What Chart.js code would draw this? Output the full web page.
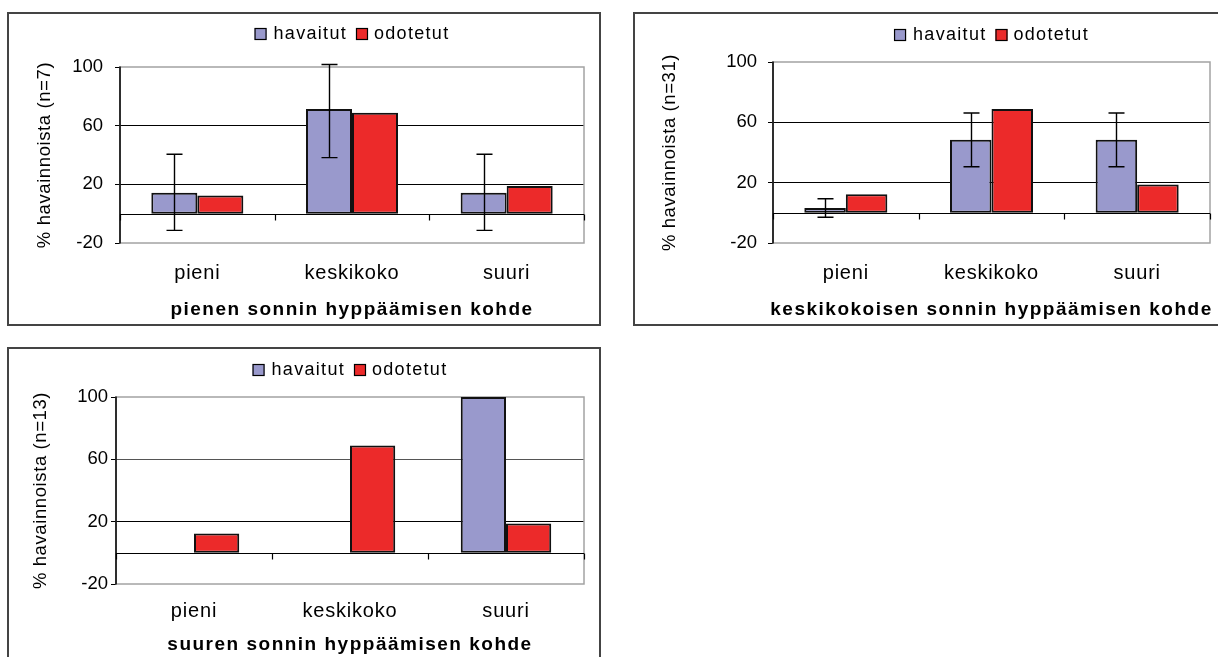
<!DOCTYPE html>
<html>
<head>
<meta charset="utf-8">
<script src="https://cdn.jsdelivr.net/npm/chart.js@4/dist/chart.umd.min.js"></script>
<style>
  html, body { margin: 0; padding: 0; background: #fff; }
  body { width: 1218px; height: 657px; overflow: hidden; position: relative; }
  .box { position: absolute; border: 2px solid #444; box-sizing: border-box; background: #fff; }
  .box canvas { display: block; }
  #b1 { left: 7px; top: 12px; width: 594px; height: 314px; }
  #b2 { left: 633px; top: 12px; width: 600px; height: 314px; }
  #b3 { left: 7px; top: 347px; width: 594px; height: 320px; }
</style>
</head>
<body>
<div class="box" id="b1"><canvas id="c1" width="590" height="310"></canvas></div>
<div class="box" id="b2"><canvas id="c2" width="596" height="310"></canvas></div>
<div class="box" id="b3"><canvas id="c3" width="590" height="316"></canvas></div>
<script>
// categories, ticks and series
const categories = ['pieni', 'keskikoko', 'suuri']
const seriesNames = ['havaitut', 'odotetut']
const yTicks = [-20, 20, 60, 100]

const odotetut = [12.4, 68.8, 18.8]

const havaitutPieni = [14.3, 71.4, 14.3]
const errLowPieni = [-11.4, 38.2, -11.4]
const errHighPieni = [40.5, 101.7, 40.5]

const havaitutKeski = [3.2, 48.4, 48.4]
const errLowKeski = [-2.9, 30.6, 30.6]
const errHighKeski = [9.3, 66.2, 66.2]

const havaitutSuuri = [0, 0, 100]

const FONT = '"Liberation Sans", Arial, sans-serif'
const PURPLE = '#9999cc'
const RED = '#ec2a2a'

// frame, zero line, error bars and all texts except the y tick labels
const frame = {
  id: 'frame',
  beforeDatasetsDraw(chart, args, o) {
    const { ctx, chartArea: a, scales: { x, y } } = chart
    ctx.save()
    ctx.strokeStyle = '#a3a3a3'
    ctx.lineWidth = 1.5
    ctx.strokeRect(a.left, a.top, a.right - a.left, a.bottom - a.top)
    ctx.strokeStyle = '#000'
    ctx.beginPath()
    ctx.moveTo(a.left, a.top - 0.5)
    ctx.lineTo(a.left, a.bottom + 0.5)
    ctx.stroke()
    const y0 = Math.round(y.getPixelForValue(0)) + 0.5
    ctx.lineWidth = 1.2
    ctx.beginPath()
    ctx.moveTo(a.left, y0)
    ctx.lineTo(a.right, y0)
    for (let i = 0; i <= categories.length; i++) {
      const px = Math.round(x.getPixelForValue(i - 0.5)) + 0.5
      ctx.moveTo(px, y0)
      ctx.lineTo(px, y0 + 6)
    }
    ctx.stroke()
    ctx.restore()
  },
  afterDatasetsDraw(chart, args, o) {
    const { ctx, scales: { y } } = chart
    ctx.save()
    ctx.strokeStyle = '#000'
    ctx.lineWidth = 1.4
    if (o.errLow) {
      const bars = chart.getDatasetMeta(0).data
      bars.forEach((bar, i) => {
        const cx = Math.round(bar.x) + 0.5
        const lo = y.getPixelForValue(o.errLow[i])
        const hi = y.getPixelForValue(o.errHigh[i])
        ctx.beginPath()
        ctx.moveTo(cx, lo); ctx.lineTo(cx, hi)
        ctx.moveTo(cx - 8, lo); ctx.lineTo(cx + 8, lo)
        ctx.moveTo(cx - 8, hi); ctx.lineTo(cx + 8, hi)
        ctx.stroke()
      })
    }
    ctx.restore()
  },
  afterDraw(chart, args, o) {
    const { ctx, chartArea: a, scales: { x } } = chart
    const cx = (a.left + a.right) / 2
    ctx.save()
    ctx.fillStyle = '#000'
    ctx.textBaseline = 'alphabetic'

    // legend
    ctx.font = '18px ' + FONT
    ctx.letterSpacing = '1.3px'
    const w1 = ctx.measureText(seriesNames[0]).width
    const w2 = ctx.measureText(seriesNames[1]).width
    let lx = cx - (12 + 7 + w1 + 9 + 12 + 6 + w2) / 2
    const lb = o.legendY
    ctx.lineWidth = 1.2
    ctx.strokeStyle = '#000'
    ctx.fillStyle = PURPLE
    ctx.fillRect(lx, lb - 11, 12, 12)
    ctx.strokeRect(lx + 0.5, lb - 10.5, 11, 11)
    ctx.fillStyle = '#000'
    ctx.textAlign = 'left'
    ctx.fillText(seriesNames[0], lx + 19, lb)
    lx += 19 + w1 + 9
    ctx.fillStyle = RED
    ctx.fillRect(lx, lb - 11, 12, 12)
    ctx.strokeRect(lx + 0.5, lb - 10.5, 11, 11)
    ctx.fillStyle = '#000'
    ctx.fillText(seriesNames[1], lx + 18, lb)

    // category labels
    ctx.font = '20px ' + FONT
    ctx.letterSpacing = '0.8px'
    ctx.textAlign = 'center'
    categories.forEach((c, i) => ctx.fillText(c, x.getPixelForValue(i), o.labelY))

    // x axis title
    ctx.font = 'bold 19px ' + FONT
    ctx.letterSpacing = '1.5px'
    ctx.fillText(o.xTitle, cx, o.xTitleY)

    // y axis title
    ctx.font = '18.5px ' + FONT
    ctx.letterSpacing = '0.6px'
    ctx.translate(o.yTitleX, (a.top + a.bottom) / 2)
    ctx.rotate(-Math.PI / 2)
    ctx.textBaseline = 'middle'
    ctx.fillText(o.yTitle, 0, 0)
    ctx.restore()
  }
}

function makeChart(id, cfg) {
  return new Chart(document.getElementById(id), {
    type: 'bar',
    data: {
      labels: categories,
      datasets: [
        { label: seriesNames[0], data: cfg.havaitut, backgroundColor: PURPLE },
        { label: seriesNames[1], data: odotetut, backgroundColor: RED },
      ],
    },
    options: {
      responsive: false,
      animation: false,
      devicePixelRatio: 1,
      layout: { padding: { left: 0, top: cfg.top, right: cfg.right, bottom: 0 } },
      datasets: {
        bar: {
          borderColor: '#111',
          borderWidth: 2,
          borderSkipped: false,
          categoryPercentage: cfg.groupWidth,
          barPercentage: 1,
        },
      },
      plugins: {
        legend: { display: false },
        tooltip: { enabled: false },
        frame: {
          errLow: cfg.errLow,
          errHigh: cfg.errHigh,
          legendY: cfg.legendY,
          labelY: cfg.labelY,
          xTitle: cfg.xTitle,
          xTitleY: cfg.xTitleY,
          yTitle: cfg.yTitle,
          yTitleX: cfg.yTitleX,
        },
      },
      scales: {
        x: {
          grid: { display: false },
          border: { display: false },
          ticks: { display: false },
          afterFit: s => { s.height = cfg.xHeight },
        },
        y: {
          min: -20,
          max: 100,
          afterBuildTicks: s => { s.ticks = yTicks.map(v => ({ value: v })) },
          afterFit: s => { s.width = cfg.left },
          border: { display: false },
          grid: {
            color: c => c.tick.value === 20 ? '#000' : c.tick.value === 60 ? cfg.grid60 : 'rgba(0,0,0,0)',
            lineWidth: 1,
            tickColor: '#000',
            tickLength: 5,
          },
          ticks: {
            color: '#000',
            padding: cfg.tickPad,
            font: { family: FONT, size: 18.5 },
          },
        },
      },
    },
    plugins: [frame],
  })
}

makeChart('c1', {
  havaitut: havaitutPieni, errLow: errLowPieni, errHigh: errHighPieni,
  top: 53, right: 15, left: 111, xHeight: 81, groupWidth: 0.595, tickPad: 12, grid60: '#000',
  legendY: 25, labelY: 265, xTitleY: 301, yTitleX: 36,
  xTitle: 'pienen sonnin hyppäämisen kohde', yTitle: '% havainnoista (n=7)',
})

makeChart('c2', {
  havaitut: havaitutKeski, errLow: errLowKeski, errHigh: errHighKeski,
  top: 48, right: 21, left: 138, xHeight: 81, groupWidth: 0.57, tickPad: 11, grid60: '#000',
  legendY: 26, labelY: 265, xTitleY: 301, yTitleX: 35,
  xTitle: 'keskikokoisen sonnin hyppäämisen kohde', yTitle: '% havainnoista (n=31)',
})

makeChart('c3', {
  havaitut: havaitutSuuri,
  top: 48, right: 15, left: 107, xHeight: 81, groupWidth: 0.58, tickPad: 3, grid60: '#555',
  legendY: 26, labelY: 268, xTitleY: 301, yTitleX: 32,
  xTitle: 'suuren sonnin hyppäämisen kohde', yTitle: '% havainnoista (n=13)',
})
</script>
</body>
</html>
